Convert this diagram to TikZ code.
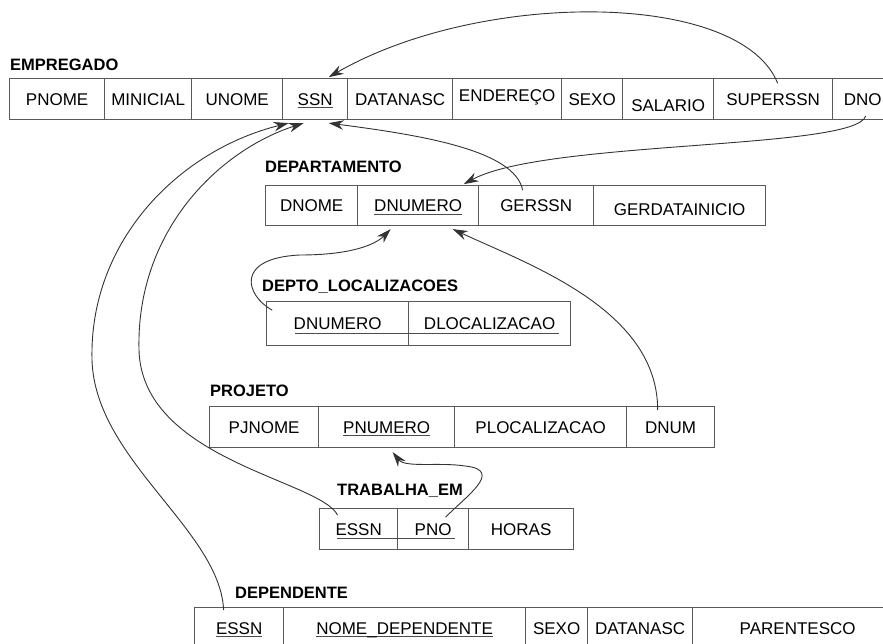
\documentclass[tikz,border=0pt]{standalone}
\usepackage{fontspec}
\setmainfont{Liberation Sans}
\usetikzlibrary{matrix,arrows.meta}

\newcommand{\chave}[1]{\setbox0\hbox{#1}\rlap{\color{black!70}\rule[-3pt]{\wd0}{0.9pt}}\box0}

\tikzset{
	tabela/.style={matrix of nodes, inner sep=0pt, column sep=-0.9pt, anchor=north west,
		nodes={draw=black!65, line width=0.9pt, minimum height=41pt, inner sep=2pt,
			text height=12pt, text depth=0pt, font=\fontsize{17}{20}\selectfont}},
	rotulo/.style={inner sep=0pt, anchor=base west, font=\fontsize{16.5}{20}\selectfont\bfseries},
	larg/.style={minimum width=#1pt},
	sublinha/.style={line width=0.9pt, draw=black!70},
	seta/.style={-{Stealth[length=15pt,width=9.5pt]}, line width=0.9pt, draw=black!80}
}

\begin{document}
\begin{tikzpicture}[x=1pt, y=-1pt]
\useasboundingbox (0,0) rectangle (883,644);

\node[rotulo] (rEmp) at (10,71) {EMPREGADO};
\matrix (emp) [tabela] at (9,78)
{
	|[larg=95]| PNOME & |[larg=87]| MINICIAL & |[larg=91]| UNOME & |[larg=65]| \chave{SSN} &
	|[larg=105]| DATANASC & |[larg=109]| \raisebox{4pt}{ENDEREÇO} & |[larg=61]| SEXO &
	|[larg=91]| \raisebox{-6pt}{SALARIO} & |[larg=119]| SUPERSSN & |[larg=60]| DNO \\
};

\node[rotulo] (rDept) at (265,173) {DEPARTAMENTO};
\matrix (dept) [tabela, nodes={minimum height=40pt}] at (265,185)
{
	|[larg=92]| DNOME & |[larg=121]| \chave{DNUMERO} & |[larg=115]| GERSSN &
	|[larg=172]| \raisebox{-4pt}{GERDATAINICIO} \\
};

\node[rotulo] (rLoc) at (262,291) {DEPTO\_LOCALIZACOES};
\matrix (loc) [tabela, nodes={minimum height=44pt}] at (266,301)
{
	|[larg=142]| DNUMERO & |[larg=162]| DLOCALIZACAO \\
};

\node[rotulo] (rProj) at (210,396) {PROJETO};
\matrix (proj) [tabela] at (209,406)
{
	|[larg=109]| PJNOME & |[larg=136]| \chave{PNUMERO} & |[larg=172]| PLOCALIZACAO & |[larg=88]| DNUM \\
};

\node[rotulo] (rTrab) at (337,495) {TRABALHA\_EM};
\matrix (trab) [tabela] at (319,508)
{
	|[larg=78]| ESSN & |[larg=71]| PNO & |[larg=105]| HORAS \\
};

\node[rotulo] (rDepe) at (235,598) {DEPENDENTE};
\matrix (depe) [tabela] at (194,607)
{
	|[larg=89]| \chave{ESSN} & |[larg=242]| \chave{NOME\_DEPENDENTE} & |[larg=62]| SEXO &
	|[larg=105]| DATANASC & |[larg=210]| PARENTESCO \\
};

\draw[sublinha] ([xshift=29pt,yshift=-3.5pt]loc-1-1.base west) -- ([xshift=-12pt,yshift=-3.5pt]loc-1-2.base east);
\draw[sublinha] ([xshift=18pt,yshift=-3.5pt]trab-1-1.base west) -- ([xshift=-14pt,yshift=-3.5pt]trab-1-2.base east);

\draw[seta] ([xshift=4.5pt,yshift=-5pt]emp-1-9.north) .. controls (740,-10) and (480,-10) .. ([xshift=13.5pt,yshift=1pt]emp-1-4.north);
\draw[seta] ([xshift=3pt,yshift=4pt]emp-1-10.south) .. controls (855,150) and (545,140) .. ([xshift=45.5pt,yshift=1pt]dept-1-2.north);
\draw[seta] ([xshift=-13.5pt,yshift=-5pt]dept-1-3.north) .. controls (515,150) and (420,135) .. ([xshift=13.5pt,yshift=-3pt]emp-1-4.south);
\draw[seta] ([xshift=-15.5pt,yshift=-3pt]depe-1-1.north) .. controls (220,530) and (95,460) .. (92,360)
	.. controls (89,240) and (180,150) .. ([xshift=-26.5pt,yshift=-3pt]emp-1-4.south);
\draw[seta] ([xshift=-21pt,yshift=-7pt]trab-1-1.north) .. controls (320,480) and (142,460) .. (139,350)
	.. controls (136,230) and (220,150) .. ([xshift=-11.5pt,yshift=-3pt]emp-1-4.south);
\draw[seta] ([xshift=6pt,yshift=-9pt]loc-1-1.north west) .. controls (245,295) and (235,258) .. (300,255)
	.. controls (350,255) and (375,245) .. ([xshift=-27.5pt,yshift=-3pt]dept-1-2.south);
\draw[seta] ([xshift=-13pt,yshift=-4pt]proj-1-4.north) .. controls (658,310) and (530,265) .. ([xshift=34.5pt,yshift=-3pt]dept-1-2.south);
\draw[seta] ([xshift=12.5pt,yshift=-9pt]trab-1-2.north) .. controls (465,497) and (505,470) .. (465,466)
	.. controls (440,462) and (405,468) .. ([xshift=6pt,yshift=-4pt]proj-1-2.south);
\end{tikzpicture}
\end{document}
